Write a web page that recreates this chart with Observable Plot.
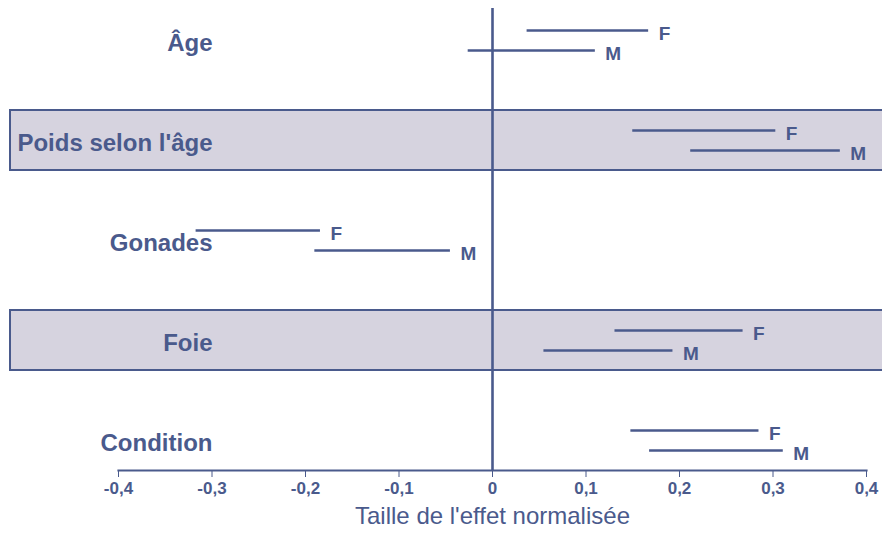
<!DOCTYPE html>
<html>
<head>
<meta charset="utf-8">
<script src="https://cdn.jsdelivr.net/npm/d3@7"></script>
<script src="https://cdn.jsdelivr.net/npm/@observablehq/plot@0.6"></script>
<style>
  html, body { margin: 0; padding: 0; background: #ffffff; }
  #chart svg { display: block; }
</style>
</head>
<body>
<div id="chart"></div>
<script>
// Categories (top to bottom)
const categories = ["Âge", "Poids selon l'âge", "Gonades", "Foie", "Condition"];
const shaded = ["Poids selon l'âge", "Foie"];

// Effect-size intervals (normalised), females
const femaleLow  = [0.037, 0.150, -0.317, 0.131, 0.148];
const femaleHigh = [0.167, 0.303, -0.184, 0.268, 0.285];
// Males
const maleLow    = [-0.026, 0.212, -0.190, 0.055, 0.168];
const maleHigh   = [0.110, 0.372, -0.045, 0.193, 0.311];

const xTicks = [-0.4, -0.3, -0.2, -0.1, 0, 0.1, 0.2, 0.3, 0.4];
const xLabel = "Taille de l'effet normalisée";

const females = categories.map((c, i) => ({cat: c, lo: femaleLow[i], hi: femaleHigh[i], sex: "F"}));
const males = categories.map((c, i) => ({cat: c, lo: maleLow[i], hi: maleHigh[i], sex: "M"}));

const ink = "#4a5a8c";
const bandFill = "#d6d3df";
const font = "'Liberation Sans', Arial, Helvetica, sans-serif";

const fmt = d => d === 0 ? "0" : d3.format(".1f")(d).replace(".", ",").replace("−", "-");

const chart = Plot.plot({
  width: 882,
  height: 539,
  marginLeft: 118,
  marginRight: 16,
  marginTop: 8,
  marginBottom: 69,
  style: {fontFamily: font, color: ink, background: "#ffffff"},
  x: {domain: [-0.4, 0.4]},
  y: {type: "band", domain: categories, range: [-12, 492], padding: 0, axis: null},
  marks: [
    // shaded category bands
    Plot.rect(shaded, {
      y: d => d,
      fill: bandFill,
      stroke: ink,
      strokeWidth: 2,
      insetTop: 20,
      insetBottom: 20,
      insetLeft: -108,
      insetRight: -30
    }),
    // zero reference line
    Plot.ruleX([0], {stroke: ink, strokeWidth: 2.6}),
    // x axis line
    Plot.frame({anchor: "bottom", stroke: ink, strokeWidth: 2.2}),
    Plot.axisX({
      ticks: xTicks,
      tickFormat: fmt,
      tickSize: 7,
      tickPadding: 4,
      tickWidth: 2.2,
      stroke: ink,
      fill: ink,
      fontSize: 17,
      fontWeight: "bold",
      label: null
    }),
    // intervals
    Plot.ruleY(females, {x1: "lo", x2: "hi", y: "cat", dy: -10, stroke: ink, strokeWidth: 2.6}),
    Plot.ruleY(males, {x1: "lo", x2: "hi", y: "cat", dy: 10, stroke: ink, strokeWidth: 2.6}),
    // sex labels
    Plot.text(females, {x: "hi", y: "cat", text: "sex", dx: 10, dy: -7, textAnchor: "start",
      fill: ink, fontWeight: "bold", fontSize: 19}),
    Plot.text(males, {x: "hi", y: "cat", text: "sex", dx: 10, dy: 13, textAnchor: "start",
      fill: ink, fontWeight: "bold", fontSize: 19}),
    // category labels
    Plot.text(categories, {
      y: d => d,
      text: d => d,
      frameAnchor: "left",
      dx: 94,
      dy: 3,
      textAnchor: "end",
      fill: ink,
      fontWeight: "bold",
      fontSize: 24
    }),
    // axis title
    Plot.text([xLabel], {
      text: d => d,
      frameAnchor: "bottom",
      dy: 53,
      fill: ink,
      fontSize: 24
    })
  ]
});

document.getElementById("chart").appendChild(chart);
</script>
</body>
</html>
